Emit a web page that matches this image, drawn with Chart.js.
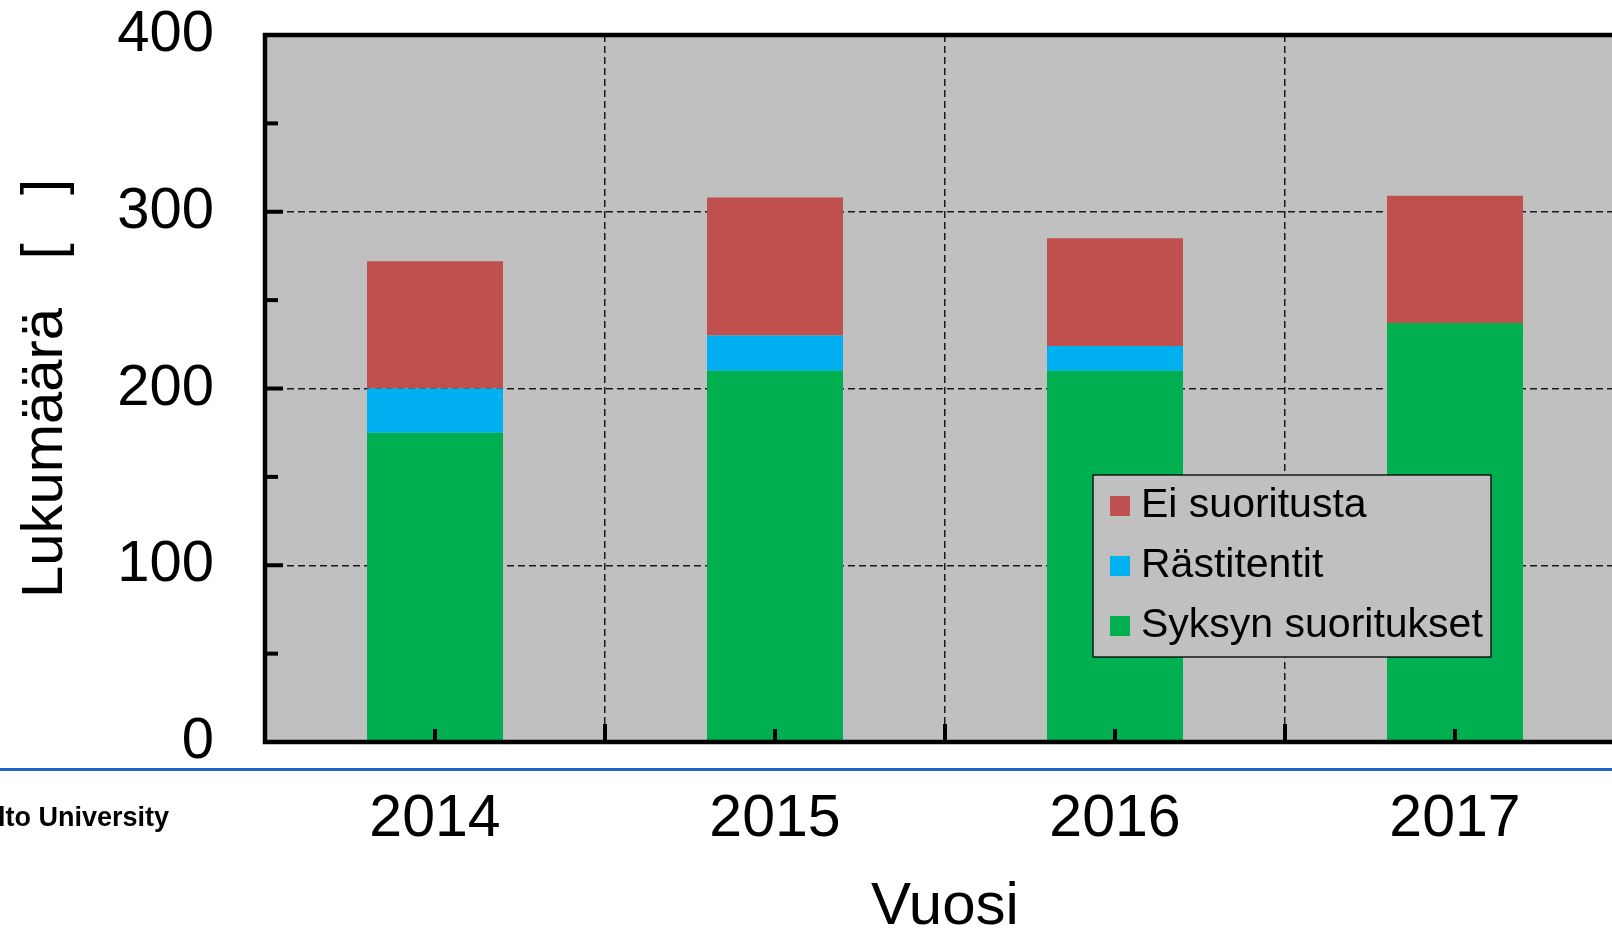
<!DOCTYPE html>
<html>
<head>
<meta charset="utf-8">
<script src="https://cdn.jsdelivr.net/npm/chart.js@4"></script>
<style>
  html, body { margin: 0; padding: 0; background: #fff; overflow: hidden; }
  #wrap { width: 1612px; height: 935px; overflow: hidden; position: relative; }
  #myChart { position: absolute; left: 0; top: 0; }
</style>
</head>
<body>
<div id="wrap"><canvas id="myChart" width="1650" height="960"></canvas></div>
<script>
const years = ['2014', '2015', '2016', '2017'];
const syksynSuoritukset = [175, 210, 210, 237];
const rastitentit = [25, 20, 14, 0];
const eiSuoritusta = [72, 78, 61, 72];
const yMin = 0, yMax = 400, yStep = 100;

const FONT = "'Liberation Sans', Arial, sans-serif";

// grey plot background, drawn before the grid
const plotBg = {
  id: 'plotBg',
  beforeDraw(chart) {
    const { ctx, chartArea: a } = chart;
    ctx.save();
    ctx.fillStyle = '#c0c0c0';
    ctx.fillRect(a.left, a.top, a.right - a.left, a.bottom - a.top);
    ctx.restore();
  }
};

// frame, inward tick marks and the boxed legend
const frameAndLegend = {
  id: 'frameAndLegend',
  afterDatasetsDraw(chart) {
    const { ctx, chartArea: a } = chart;
    const x = chart.scales.x, y = chart.scales.y;
    ctx.save();
    ctx.strokeStyle = '#000';
    ctx.lineWidth = 4.5;
    ctx.lineCap = 'square';
    ctx.beginPath();
    ctx.moveTo(a.left, a.bottom); ctx.lineTo(a.left, a.top);
    ctx.lineTo(a.right, a.top); ctx.lineTo(a.right, a.bottom);
    ctx.lineTo(a.left, a.bottom);
    ctx.stroke();

    ctx.lineCap = 'butt';
    ctx.lineWidth = 4;
    for (let v = yMin; v <= yMax; v += yStep / 2) {
      const py = y.getPixelForValue(v);
      const len = v % yStep === 0 ? 18 : 13;
      ctx.beginPath(); ctx.moveTo(a.left, py); ctx.lineTo(a.left + len, py); ctx.stroke();
    }
    const w = (x.right - x.left) / years.length;
    for (let i = 0; i <= years.length; i++) {
      const px = x.left + i * w;
      ctx.beginPath(); ctx.moveTo(px, a.bottom); ctx.lineTo(px, a.bottom - 18); ctx.stroke();
    }
    years.forEach((_, i) => {
      const px = x.getPixelForValue(i);
      ctx.beginPath(); ctx.moveTo(px, a.bottom); ctx.lineTo(px, a.bottom - 13); ctx.stroke();
    });

    // legend box
    ctx.fillStyle = '#c0c0c0';
    ctx.fillRect(1093, 475, 398, 182);
    ctx.lineWidth = 1.3;
    ctx.strokeStyle = '#000';
    ctx.strokeRect(1093, 475, 398, 182);
    ctx.font = '41px ' + FONT;
    ctx.textBaseline = 'middle';
    ctx.textAlign = 'left';
    chart.data.datasets.slice().reverse().forEach((ds, i) => {
      const cy = 506 + i * 60;
      ctx.fillStyle = ds.backgroundColor;
      ctx.fillRect(1110, cy - 10, 20, 20);
      ctx.fillStyle = '#000';
      ctx.fillText(ds.label, 1141, cy);
    });
    ctx.restore();
  },
  afterDraw(chart) {
    const ctx = chart.ctx;
    ctx.save();
    ctx.strokeStyle = '#1c63c4';
    ctx.lineWidth = 3;
    ctx.beginPath(); ctx.moveTo(0, 769.5); ctx.lineTo(chart.width, 769.5); ctx.stroke();
    ctx.font = 'bold 27px ' + FONT;
    ctx.fillStyle = '#000';
    ctx.textBaseline = 'alphabetic';
    const off = ctx.measureText('Aa').width;
    ctx.fillText('Aalto University', -off - 2, 826);
    ctx.restore();
  }
};

new Chart(document.getElementById('myChart'), {
  type: 'bar',
  data: {
    labels: years,
    datasets: [{
      label: 'Syksyn suoritukset',
      data: syksynSuoritukset,
      backgroundColor: '#00b050'
    }, {
      label: 'Rästitentit',
      data: rastitentit,
      backgroundColor: '#00b0f0'
    }, {
      label: 'Ei suoritusta',
      data: eiSuoritusta,
      backgroundColor: '#c0504d'
    }]
  },
  options: {
    responsive: false,
    animation: false,
    barPercentage: 0.4,
    categoryPercentage: 1.0,
    layout: { padding: { left: 0, top: 35, right: 25, bottom: 0 } },
    plugins: {
      legend: { display: false },
      tooltip: { enabled: false }
    },
    scales: {
      x: {
        stacked: true,
        afterFit: (s) => { s.height = 218; },
        grid: {
          offset: true, color: '#1a1a1a', lineWidth: 1.5,
          drawTicks: true, tickLength: 42, tickColor: 'rgba(0,0,0,0)'
        },
        border: { display: false, dash: [7, 4] },
        ticks: { color: '#000', padding: 0, font: { family: FONT, size: 59 } },
        title: {
          display: true, text: 'Vuosi', color: '#000',
          font: { family: FONT, size: 60 }, padding: { top: 0, bottom: 17 }
        }
      },
      y: {
        stacked: true,
        min: yMin,
        max: yMax,
        afterFit: (s) => { s.width = 265; },
        grid: {
          color: '#1a1a1a', lineWidth: 1.5,
          drawTicks: true, tickLength: 51, tickColor: 'rgba(0,0,0,0)'
        },
        border: { display: false, dash: [7, 4] },
        ticks: { stepSize: yStep, color: '#000', padding: 0, font: { family: FONT, size: 58 } },
        title: {
          display: true, text: 'Lukumäärä   [   ]', color: '#000',
          font: { family: FONT, size: 58 }, padding: { top: 11, bottom: 0 }
        }
      }
    }
  },
  plugins: [plotBg, frameAndLegend]
});
</script>
</body>
</html>
